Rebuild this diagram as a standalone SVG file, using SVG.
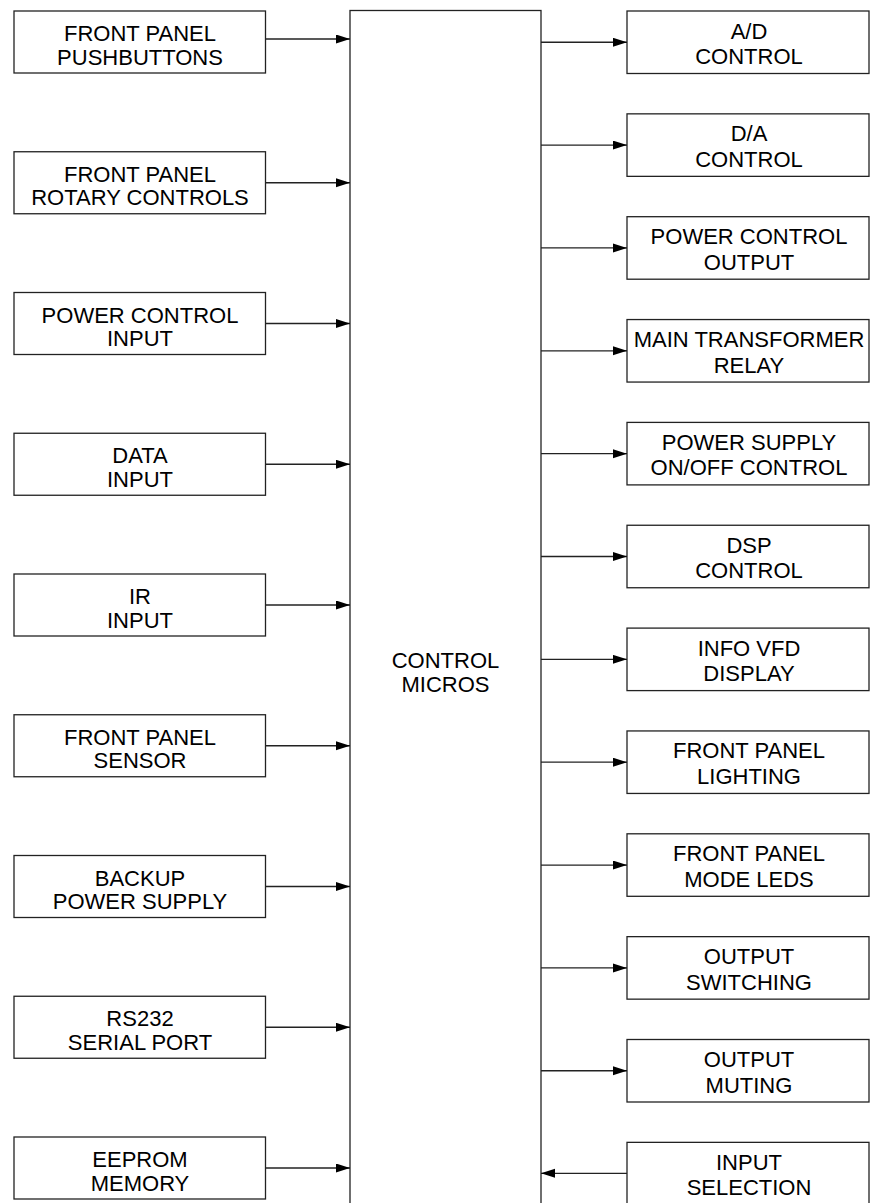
<svg xmlns="http://www.w3.org/2000/svg" width="871" height="1203" viewBox="0 0 871 1203">
<style>
.box{fill:#fff;stroke:#222;stroke-width:1.3}
.t{font-family:"Liberation Sans",Arial,sans-serif;font-size:22px;fill:#000;text-anchor:middle}
.c{stroke:#222;stroke-width:1.3;fill:none;marker-end:url(#ah)}
</style>
<defs>
<marker id="ah" markerUnits="userSpaceOnUse" markerWidth="15" markerHeight="10" refX="14" refY="4.5" orient="auto">
<path d="M0,0 L14,4.5 L0,9 z" fill="#000"/>
</marker>
</defs>
<rect width="871" height="1203" fill="#fff"/>
<g id="control-micros">
<rect class="box" x="350" y="10.5" width="191" height="1200"/>
<text class="t" x="445.5" y="668">CONTROL</text>
<text class="t" x="445.5" y="691.5">MICROS</text>
</g>
<g id="l1"><rect class="box" x="14" y="11" width="251.5" height="62"/><text class="t" x="140" y="41">FRONT PANEL</text><text class="t" x="140" y="64.5">PUSHBUTTONS</text></g>
<g id="l2"><rect class="box" x="14" y="151.75" width="251.5" height="62"/><text class="t" x="140" y="181.75">FRONT PANEL</text><text class="t" x="140" y="205.25">ROTARY CONTROLS</text></g>
<g id="l3"><rect class="box" x="14" y="292.5" width="251.5" height="62"/><text class="t" x="140" y="322.5">POWER CONTROL</text><text class="t" x="140" y="346">INPUT</text></g>
<g id="l4"><rect class="box" x="14" y="433.25" width="251.5" height="62"/><text class="t" x="140" y="463.25">DATA</text><text class="t" x="140" y="486.75">INPUT</text></g>
<g id="l5"><rect class="box" x="14" y="574" width="251.5" height="62"/><text class="t" x="140" y="604">IR</text><text class="t" x="140" y="627.5">INPUT</text></g>
<g id="l6"><rect class="box" x="14" y="714.75" width="251.5" height="62"/><text class="t" x="140" y="744.75">FRONT PANEL</text><text class="t" x="140" y="768.25">SENSOR</text></g>
<g id="l7"><rect class="box" x="14" y="855.5" width="251.5" height="62"/><text class="t" x="140" y="885.5">BACKUP</text><text class="t" x="140" y="909">POWER SUPPLY</text></g>
<g id="l8"><rect class="box" x="14" y="996.25" width="251.5" height="62"/><text class="t" x="140" y="1026.25">RS232</text><text class="t" x="140" y="1049.75">SERIAL PORT</text></g>
<g id="l9"><rect class="box" x="14" y="1137" width="251.5" height="62"/><text class="t" x="140" y="1167">EEPROM</text><text class="t" x="140" y="1190.5">MEMORY</text></g>
<g id="r1"><rect class="box" x="627" y="11" width="242" height="62.5"/><text class="t" x="749" y="38.5">A/D</text><text class="t" x="749" y="64">CONTROL</text></g>
<g id="r2"><rect class="box" x="627" y="113.85" width="242" height="62.5"/><text class="t" x="749" y="141.35">D/A</text><text class="t" x="749" y="166.85">CONTROL</text></g>
<g id="r3"><rect class="box" x="627" y="216.7" width="242" height="62.5"/><text class="t" x="749" y="244.2">POWER CONTROL</text><text class="t" x="749" y="269.7">OUTPUT</text></g>
<g id="r4"><rect class="box" x="627" y="319.55" width="242" height="62.5"/><text class="t" x="749" y="347.05">MAIN TRANSFORMER</text><text class="t" x="749" y="372.55">RELAY</text></g>
<g id="r5"><rect class="box" x="627" y="422.4" width="242" height="62.5"/><text class="t" x="749" y="449.9">POWER SUPPLY</text><text class="t" x="749" y="475.4">ON/OFF CONTROL</text></g>
<g id="r6"><rect class="box" x="627" y="525.25" width="242" height="62.5"/><text class="t" x="749" y="552.75">DSP</text><text class="t" x="749" y="578.25">CONTROL</text></g>
<g id="r7"><rect class="box" x="627" y="628.1" width="242" height="62.5"/><text class="t" x="749" y="655.6">INFO VFD</text><text class="t" x="749" y="681.1">DISPLAY</text></g>
<g id="r8"><rect class="box" x="627" y="730.95" width="242" height="62.5"/><text class="t" x="749" y="758.45">FRONT PANEL</text><text class="t" x="749" y="783.95">LIGHTING</text></g>
<g id="r9"><rect class="box" x="627" y="833.8" width="242" height="62.5"/><text class="t" x="749" y="861.3">FRONT PANEL</text><text class="t" x="749" y="886.8">MODE LEDS</text></g>
<g id="r10"><rect class="box" x="627" y="936.65" width="242" height="62.5"/><text class="t" x="749" y="964.15">OUTPUT</text><text class="t" x="749" y="989.65">SWITCHING</text></g>
<g id="r11"><rect class="box" x="627" y="1039.5" width="242" height="62.5"/><text class="t" x="749" y="1067">OUTPUT</text><text class="t" x="749" y="1092.5">MUTING</text></g>
<g id="r12"><rect class="box" x="627" y="1142.35" width="242" height="62.5"/><text class="t" x="749" y="1169.85">INPUT</text><text class="t" x="749" y="1195.35">SELECTION</text></g>
<g id="connectors">
<line class="c" x1="265.5" y1="39" x2="350" y2="39"/>
<line class="c" x1="265.5" y1="182.75" x2="350" y2="182.75"/>
<line class="c" x1="265.5" y1="323.5" x2="350" y2="323.5"/>
<line class="c" x1="265.5" y1="464.25" x2="350" y2="464.25"/>
<line class="c" x1="265.5" y1="605" x2="350" y2="605"/>
<line class="c" x1="265.5" y1="745.75" x2="350" y2="745.75"/>
<line class="c" x1="265.5" y1="886.5" x2="350" y2="886.5"/>
<line class="c" x1="265.5" y1="1027.25" x2="350" y2="1027.25"/>
<line class="c" x1="265.5" y1="1168" x2="350" y2="1168"/>
<line class="c" x1="541" y1="42.25" x2="627" y2="42.25"/>
<line class="c" x1="541" y1="145.1" x2="627" y2="145.1"/>
<line class="c" x1="541" y1="247.95" x2="627" y2="247.95"/>
<line class="c" x1="541" y1="350.8" x2="627" y2="350.8"/>
<line class="c" x1="541" y1="453.65" x2="627" y2="453.65"/>
<line class="c" x1="541" y1="556.5" x2="627" y2="556.5"/>
<line class="c" x1="541" y1="659.35" x2="627" y2="659.35"/>
<line class="c" x1="541" y1="762.2" x2="627" y2="762.2"/>
<line class="c" x1="541" y1="865.05" x2="627" y2="865.05"/>
<line class="c" x1="541" y1="967.9" x2="627" y2="967.9"/>
<line class="c" x1="541" y1="1070.75" x2="627" y2="1070.75"/>
<line class="c" x1="627" y1="1173.35" x2="541" y2="1173.35"/>
</g>
</svg>
